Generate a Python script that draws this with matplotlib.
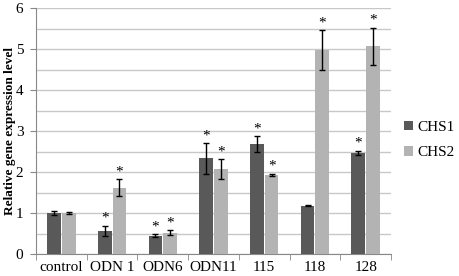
import matplotlib
matplotlib.use('Agg')
import matplotlib.pyplot as plt
import numpy as np

categorias = ['control', 'ODN 1', 'ODN6', 'ODN11', '115', '118', '128']
chs1 = [1.00, 0.57, 0.45, 2.33, 2.68, 1.18, 2.47]
chs1_err = [0.04, 0.12, 0.04, 0.38, 0.20, 0.02, 0.05]
chs2 = [1.00, 1.62, 0.52, 2.07, 1.93, 4.98, 5.07]
chs2_err = [0.03, 0.20, 0.06, 0.25, 0.03, 0.48, 0.45]
sig1 = [False, True, True, True, True, False, True]
sig2 = [False, True, True, True, True, True, True]

plt.rcParams['font.family'] = 'Liberation Serif'

fig = plt.figure(figsize=(4.59, 2.76), dpi=100)
ax = fig.add_axes([36/459, 22/276, 355/459, 246/276])

x = np.arange(len(categorias))
ancho = 0.27
err_kw = dict(ecolor='black', capsize=2.5, elinewidth=1, capthick=1)
ax.bar(x - ancho/2 - 0.01, chs1, ancho, yerr=chs1_err, color='#595959',
       label='CHS1', error_kw=err_kw, zorder=3)
ax.bar(x + ancho/2 + 0.01, chs2, ancho, yerr=chs2_err, color='#b3b3b3',
       label='CHS2', error_kw=err_kw, zorder=3)

for i in range(len(categorias)):
    if sig1[i]:
        ax.text(x[i] - ancho/2 - 0.01, chs1[i] + chs1_err[i] + 0.02, '*',
                ha='center', va='bottom', fontsize=11)
    if sig2[i]:
        ax.text(x[i] + ancho/2 + 0.01, chs2[i] + chs2_err[i] + 0.02, '*',
                ha='center', va='bottom', fontsize=11)

ax.set_xlim(-0.5, len(categorias) - 0.5)
ax.set_ylim(0, 6)
ax.set_yticks(np.arange(0, 7, 1))
ax.set_yticks(np.arange(0, 6.5, 0.5), minor=True)
ax.tick_params(axis='y', which='minor', length=0)
ax.grid(axis='y', which='both', color='#c8c8c8', linewidth=1, zorder=0)
ax.set_xticks(x)
ax.set_xticklabels(categorias, fontsize=11)
ax.set_xticks(np.arange(-0.5, len(categorias), 1), minor=True)
ax.tick_params(axis='x', which='major', length=0, pad=5)
ax.tick_params(axis='x', which='minor', length=4, color='#888888')
ax.tick_params(axis='y', which='major', length=4, color='#888888', labelsize=11, pad=5)
for lado in ['top', 'right']:
    ax.spines[lado].set_visible(False)
for lado in ['left', 'bottom']:
    ax.spines[lado].set_color('#888888')

ax.set_ylabel('Relative gene expression level', fontsize=9.5, fontweight='bold')
ax.yaxis.set_label_coords(-20/355, 0.5)

fig.legend(loc='center left', bbox_to_anchor=(404/459, 1 - 140/276),
           frameon=False, fontsize=11, handlelength=0.6, handleheight=0.6,
           handletextpad=0.3, labelspacing=0.8, borderpad=0, borderaxespad=0)

plt.savefig('out.png', dpi=100)
plt.close()
